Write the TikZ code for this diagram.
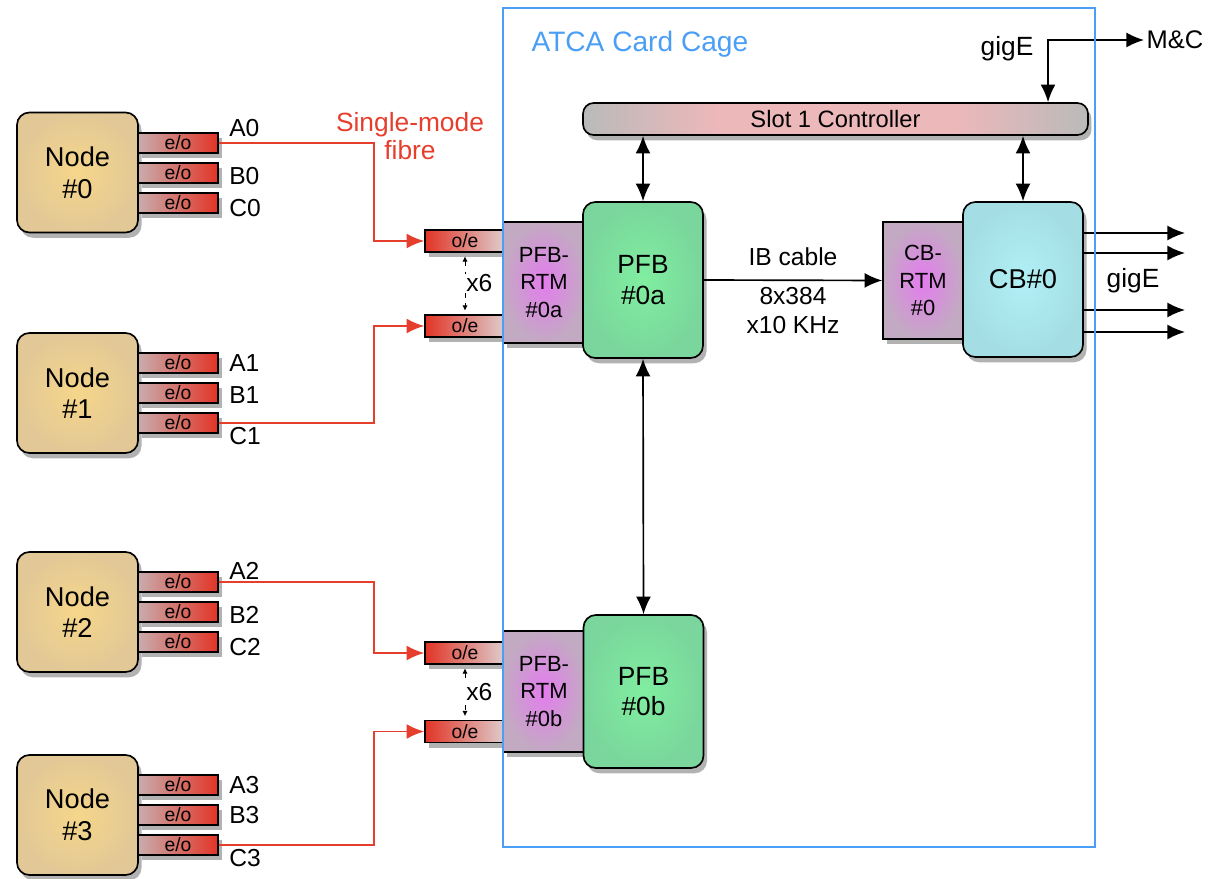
\documentclass[tikz,border=0pt]{standalone}
\usepackage{fontspec}
\setmainfont{Liberation Sans}
\usetikzlibrary{arrows.meta,positioning,shadows}
\definecolor{CageBlue}{RGB}{74,158,245}
\definecolor{FibreRed}{RGB}{230,62,45}
\definecolor{NodeTan}{RGB}{226,200,150}
\definecolor{NodeGlow}{RGB}{246,214,138}
\definecolor{ConvRed}{RGB}{226,52,38}
\definecolor{ConvGrey}{RGB}{200,172,172}
\definecolor{ConvPale}{RGB}{222,206,206}
\definecolor{RtmPink}{RGB}{228,124,238}
\definecolor{RtmGrey}{RGB}{194,170,194}
\definecolor{PfbGreen}{RGB}{128,238,160}
\definecolor{PfbEdge}{RGB}{122,214,156}
\definecolor{CbCyan}{RGB}{176,240,246}
\definecolor{CbEdge}{RGB}{164,222,228}
\definecolor{SlotGrey}{RGB}{186,186,186}
\definecolor{SlotPink}{RGB}{236,184,186}
\pgfdeclarehorizontalshading{slotshade}{100bp}{color(0bp)=(SlotGrey); color(25bp)=(SlotGrey);
  color(38bp)=(SlotPink); color(62bp)=(SlotPink); color(75bp)=(SlotGrey); color(100bp)=(SlotGrey)}

\begin{document}
\begin{tikzpicture}[x=0.02cm, y=-0.02cm, line width=0.95pt, >={Latex[length=10pt,width=8.5pt]},
      every node/.append style={font=\fontsize{14}{17}\selectfont, inner sep=1pt, align=center},
      shadowed/.style={drop shadow={shadow xshift=2pt,shadow yshift=-3pt,opacity=0.3,fill=black}},
      host/.style={shadowed, draw, rounded corners=7pt, minimum width=2.42cm, minimum height=2.4cm,
        inner color=NodeGlow, outer color=NodeTan, font=\fontsize{15.5}{18}\selectfont},
      eo/.style={shadowed, draw, inner sep=0pt, minimum width=1.6cm, minimum height=0.4cm,
        left color=ConvGrey, right color=ConvRed, font=\fontsize{11}{12}\selectfont},
      oe/.style={eo, minimum height=0.44cm, left color=ConvRed, right color=ConvPale},
      port/.style={xshift=4.5pt},
      rtm/.style={shadowed, draw, minimum width=1.64cm, minimum height=2.42cm,
        inner color=RtmPink, outer color=RtmGrey, font=\fontsize{12.5}{15.5}\selectfont},
      pfb/.style={shadowed, draw, rounded corners=7pt, minimum width=2.4cm, minimum height=3.12cm,
        inner color=PfbGreen, outer color=PfbEdge, font=\fontsize{15}{17.5}\selectfont},
      slot/.style={shadowed, draw, rounded corners=6pt, minimum width=10.1cm, minimum height=0.64cm,
        shading=slotshade, font=\fontsize{13.5}{16}\selectfont},
      fibre/.style={draw=FibreRed, line width=0.95pt, ->}]
  \useasboundingbox (0,0) rectangle (1219,878);

  \node (node0) [host] at (77.5,172.5) {Node\\\#0};
  \node (node1) [host] at (77.5,393) {Node\\\#1};
  \node (node2) [host] at (77.5,612) {Node\\\#2};
  \node (node3) [host] at (77.5,815) {Node\\\#3};

  \node (eoA0) [eo] at (178,143) {e/o};
  \node (eoB0) [eo] at (178,173) {e/o};
  \node (eoC0) [eo] at (178,203) {e/o};
  \node (eoA1) [eo] at (178,363) {e/o};
  \node (eoB1) [eo] at (178,393) {e/o};
  \node (eoC1) [eo] at (178,423) {e/o};
  \node (eoA2) [eo] at (178,582) {e/o};
  \node (eoB2) [eo] at (178,612) {e/o};
  \node (eoC2) [eo] at (178,642) {e/o};
  \node (eoA3) [eo] at (178,785) {e/o};
  \node (eoB3) [eo] at (178,815) {e/o};
  \node (eoC3) [eo] at (178,845) {e/o};

  \node (labA0) [port, anchor=south west, yshift=2pt] at (eoA0.east) {A0};
  \node (labB0) [port, anchor=west, yshift=-2pt] at (eoB0.east) {B0};
  \node (labC0) [port, anchor=west, yshift=-3pt] at (eoC0.east) {C0};
  \node (labA1) [port, anchor=west] at (eoA1.east) {A1};
  \node (labB1) [port, anchor=west, yshift=-1pt] at (eoB1.east) {B1};
  \node (labC1) [port, anchor=north west, yshift=-1pt] at (eoC1.east) {C1};
  \node (labA2) [port, anchor=south west, yshift=0pt] at (eoA2.east) {A2};
  \node (labB2) [port, anchor=west, yshift=-1.5pt] at (eoB2.east) {B2};
  \node (labC2) [port, anchor=west, yshift=-3pt] at (eoC2.east) {C2};
  \node (labA3) [port, anchor=west] at (eoA3.east) {A3};
  \node (labB3) [port, anchor=west] at (eoB3.east) {B3};
  \node (labC3) [port, anchor=north west, yshift=-1pt] at (eoC3.east) {C3};

  \node (fibrelab) [text=FibreRed, font=\fontsize{15}{16}\selectfont] at (410,136) {Single-mode\\fibre};

  \node (oeA1) [oe] at (465,241) {o/e};
  \node (oeA2) [oe] at (465,326) {o/e};
  \node (oeB1) [oe] at (465,653) {o/e};
  \node (oeB2) [oe] at (465,731.5) {o/e};

  \draw[fibre] (eoA0.east) -- ++(155,0) |- (oeA1.west);
  \draw[fibre] (eoC1.east) -- ++(155,0) |- (oeA2.west);
  \draw[fibre] (eoA2.east) -- ++(155,0) |- (oeB1.west);
  \draw[fibre] (eoC3.east) -- ++(155,0) |- (oeB2.west);

  \draw[dashed, line width=0.5pt, shorten <=2pt, shorten >=2pt, {Latex[length=3pt,width=3pt]}-{Latex[length=3pt,width=3pt]}]
    (oeA1.south) -- (oeA2.north) node (copiesA) [midway, right, fill=white, inner sep=0.5pt] {x6};
  \draw[dashed, line width=0.5pt, shorten <=2pt, shorten >=2pt, {Latex[length=3pt,width=3pt]}-{Latex[length=3pt,width=3pt]}]
    (oeB1.south) -- (oeB2.north) node (copiesB) [midway, right, fill=white, inner sep=0.5pt] {x6};

  \node (rtma) [rtm] at (544,282.5) {PFB-\\RTM\\\#0a};
  \node (pfba) [pfb] at (643,280) {PFB\\\#0a};
  \node (rtmb) [rtm] at (544,691.5) {PFB-\\RTM\\\#0b};
  \node (pfbb) [pfb, minimum height=3.06cm] at (643.5,691.5) {PFB\\\#0b};
  \node (cbrtm) [rtm, minimum width=1.6cm, minimum height=2.34cm] at (923,280.5) {CB-\\RTM\\\#0};
  \node (cb) [pfb, minimum height=3.1cm, inner color=CbCyan, outer color=CbEdge, font=\fontsize{15.5}{18}\selectfont] at (1023,279.5) {CB\#0};
  \node (slot) [slot] at (835.5,119) {Slot 1 Controller};

  \draw[<->] (slot.south -| pfba.north) -- (pfba.north);
  \draw[<->] (slot.south -| cb.north) -- (cb.north);
  \draw[<->] (pfba.south) -- (pfbb.north);
  \draw[->] (pfba.east) -- (cbrtm.west)
    node (iblab) [midway, above=7pt] {IB cable}
    node (ratelab) [midway, below=2.5pt, font=\fontsize{14}{16.5}\selectfont] {8x384\\x10 KHz};

  \coordinate (out1) at (1185,233);
  \coordinate (out2) at (1185,253);
  \coordinate (out3) at (1185,310);
  \coordinate (out4) at (1185,332);
  \draw[->] (cb.east |- out1) -- (out1);
  \draw[->] (cb.east |- out2) -- (out2);
  \draw[->] (cb.east |- out3) -- (out3);
  \draw[->] (cb.east |- out4) -- (out4);
  \node (gigEout) [font=\fontsize{15}{17}\selectfont] at (1133,281) {gigE};

  \coordinate (mcbend) at (1048,41);
  \node (mc) [anchor=west, font=\fontsize{14.5}{17}\selectfont] at (1144,40) {M\&C};
  \draw[<->] (slot.north -| mcbend) |- (mc.west);
  \node (gigEtop) [font=\fontsize{15}{17}\selectfont] at (1007,49) {gigE};

  \draw[draw=CageBlue, line width=1pt] (503,8) rectangle (1095,847);
  \node (cagelab) [anchor=west, text=CageBlue, font=\fontsize{16}{18}\selectfont] at (529,44) {ATCA Card Cage};
\end{tikzpicture}
\end{document}
